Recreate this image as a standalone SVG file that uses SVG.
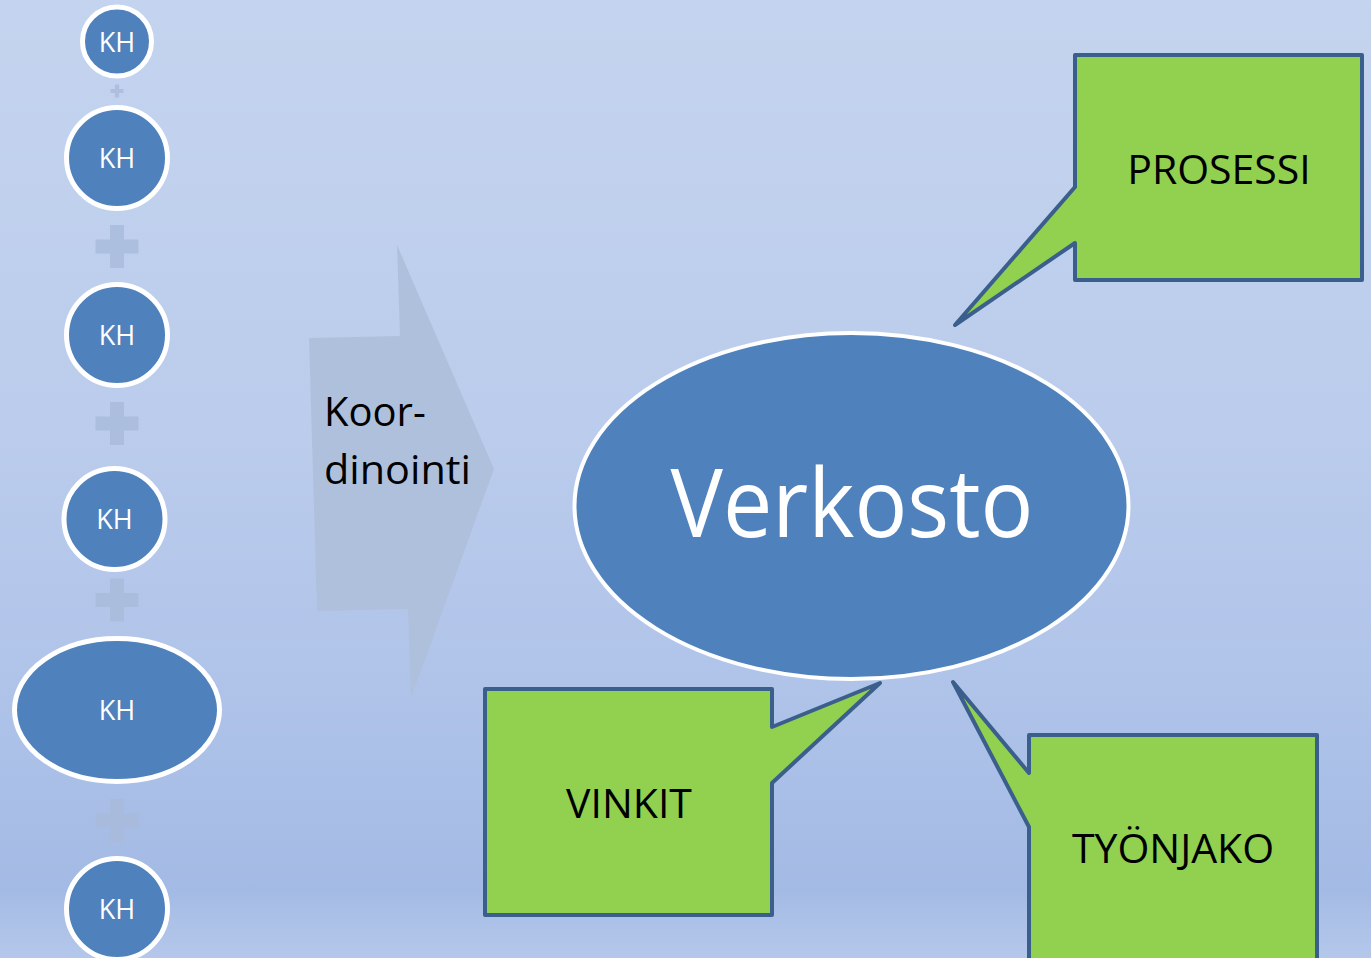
<svg xmlns="http://www.w3.org/2000/svg" width="1371" height="958" viewBox="0 0 1371 958">
<defs>
<linearGradient id="bg" x1="0" y1="0" x2="0" y2="1">
<stop offset="0" stop-color="#C4D4EF"/>
<stop offset="0.45" stop-color="#BBCCEC"/>
<stop offset="0.73" stop-color="#AFC3E9"/>
<stop offset="0.93" stop-color="#A3BAE4"/>
<stop offset="0.955" stop-color="#ABC0E7"/>
<stop offset="1" stop-color="#B4C7EB"/>
</linearGradient>
<path id="plus" d="M-7,-21.5 H7 V-7 H21.5 V7 H7 V21.5 H-7 V7 H-21.5 V-7 H-7 Z"/>
</defs>
<style>
.kh{fill:#4F81BD;stroke:#FFFFFF;stroke-width:5}
.khl{font-family:"Open Sans","Liberation Sans",sans-serif;font-size:27px;fill:#FFFFFF;text-anchor:middle}
.plus{fill:#A9BAD9;opacity:0.8}
.call{fill:#92D050;stroke:#3B5F8C;stroke-width:4;stroke-linejoin:round}
.cl{font-family:"Open Sans","Liberation Sans",sans-serif;font-size:41px;fill:#000000;text-anchor:middle}
</style>
<rect x="0" y="0" width="1371" height="958" fill="url(#bg)"/>

<g id="connectors">
<use href="#plus" class="plus" transform="translate(117,91) scale(0.3)"/>
<use href="#plus" class="plus" transform="translate(117,246.5)"/>
<use href="#plus" class="plus" transform="translate(117,423.5)"/>
<use href="#plus" class="plus" transform="translate(117,600)"/>
<use href="#plus" class="plus" transform="translate(117,820.5)"/>
</g>

<g id="kh1"><circle class="kh" cx="117" cy="41.5" r="34.5"/><text class="khl" x="117" y="51.5">KH</text></g>
<g id="kh2"><circle class="kh" cx="117" cy="158" r="50.5"/><text class="khl" x="117" y="168">KH</text></g>
<g id="kh3"><circle class="kh" cx="117" cy="335" r="50.5"/><text class="khl" x="117" y="345">KH</text></g>
<g id="kh4"><circle class="kh" cx="114.5" cy="519" r="50.5"/><text class="khl" x="114.5" y="529">KH</text></g>
<g id="kh5"><ellipse class="kh" cx="117" cy="710" rx="102.5" ry="71.5"/><text class="khl" x="117" y="720">KH</text></g>
<g id="kh6"><circle class="kh" cx="117" cy="909" r="50.5"/><text class="khl" x="117" y="919">KH</text></g>

<g id="koordinointi">
<polygon points="397,245 400,336 309,338 317,611 408,609 411,698 494,469" fill="#AFC0DD"/>
<text font-family="'Open Sans','Liberation Sans',sans-serif" font-size="40" fill="#000000"><tspan x="324" y="426">Koor-</tspan><tspan x="324" y="484" textLength="147" lengthAdjust="spacingAndGlyphs">dinointi</tspan></text>
</g>

<g id="verkosto">
<ellipse cx="851.5" cy="506" rx="277" ry="173" fill="#4F81BD" stroke="#FFFFFF" stroke-width="4"/>
<text x="852" y="537" font-family="'Open Sans','Liberation Sans',sans-serif" font-size="96" fill="#FFFFFF" text-anchor="middle" textLength="363" lengthAdjust="spacingAndGlyphs">Verkosto</text>
</g>

<g id="prosessi">
<path class="call" d="M1075,55 H1362 V280 H1075 V243 L955,325 L1075,187 Z"/>
<text class="cl" x="1219" y="184">PROSESSI</text>
</g>

<g id="vinkit">
<path class="call" d="M485,689 H772 V727 L880,683 L772,783 V915 H485 Z"/>
<text class="cl" x="629" y="818">VINKIT</text>
</g>

<g id="tyonjako">
<path class="call" d="M1029,735 H1317 V970 H1029 V827 L953,682 L1029,773 Z"/>
<text class="cl" x="1173" y="863">TYÖNJAKO</text>
</g>
</svg>
